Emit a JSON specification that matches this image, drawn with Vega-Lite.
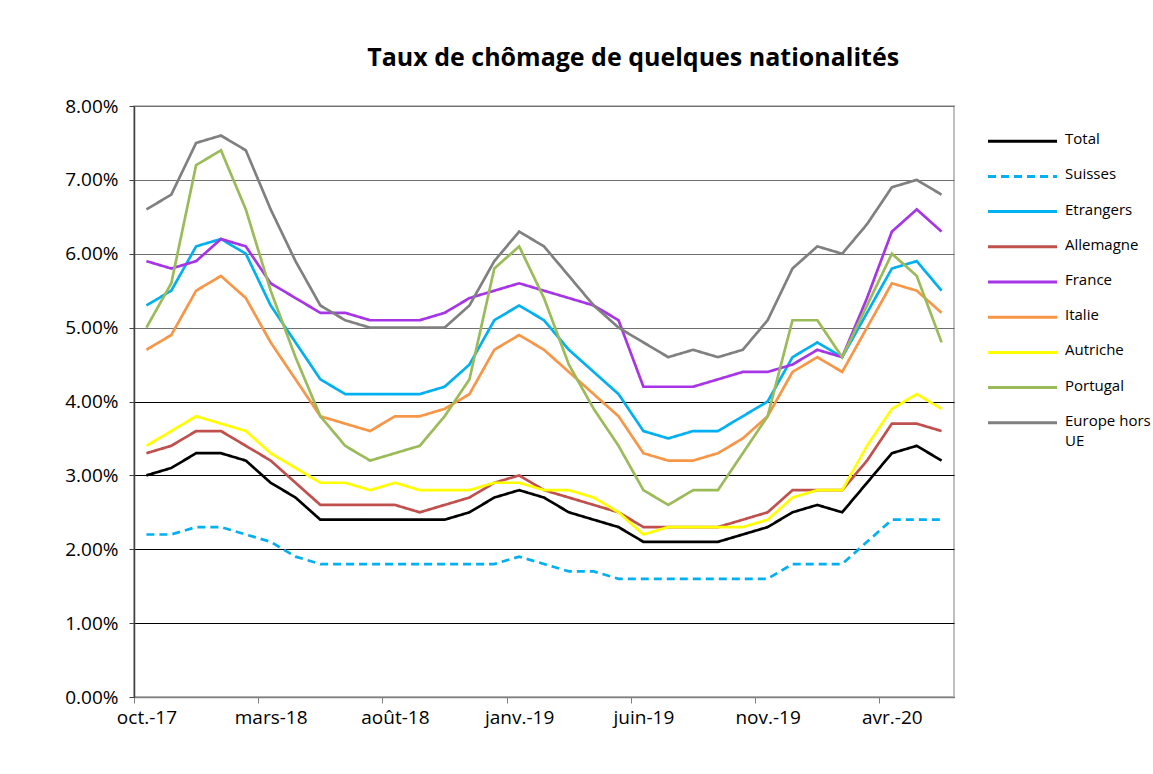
{
"$schema": "https://vega.github.io/schema/vega-lite/v6.json",
"autosize": {"type": "pad"},
"padding": {"left": 63, "top": 46, "right": 0, "bottom": 0},
"background": "white",
"spacing": 31,
"title": {"text": "Taux de chômage de quelques nationalités", "font": "Open Sans", "fontSize": 25, "fontWeight": "bold", "color": "black", "anchor": "middle", "dx": 26, "offset": 25},
"resolve": {"scale": {"x": "independent", "y": "independent"}},
"hconcat": [
{
"width": 820, "height": 591,
"data": {"values": [
{"mois":"oct.-17","serie":"Total","taux":0.030},{"mois":"nov.-17","serie":"Total","taux":0.031},{"mois":"déc.-17","serie":"Total","taux":0.033},{"mois":"janv.-18","serie":"Total","taux":0.033},{"mois":"févr.-18","serie":"Total","taux":0.032},{"mois":"mars-18","serie":"Total","taux":0.029},{"mois":"avr.-18","serie":"Total","taux":0.027},{"mois":"mai-18","serie":"Total","taux":0.024},{"mois":"juin-18","serie":"Total","taux":0.024},{"mois":"juil.-18","serie":"Total","taux":0.024},{"mois":"août-18","serie":"Total","taux":0.024},{"mois":"sept.-18","serie":"Total","taux":0.024},{"mois":"oct.-18","serie":"Total","taux":0.024},{"mois":"nov.-18","serie":"Total","taux":0.025},{"mois":"déc.-18","serie":"Total","taux":0.027},{"mois":"janv.-19","serie":"Total","taux":0.028},{"mois":"févr.-19","serie":"Total","taux":0.027},{"mois":"mars-19","serie":"Total","taux":0.025},{"mois":"avr.-19","serie":"Total","taux":0.024},{"mois":"mai-19","serie":"Total","taux":0.023},{"mois":"juin-19","serie":"Total","taux":0.021},{"mois":"juil.-19","serie":"Total","taux":0.021},{"mois":"août-19","serie":"Total","taux":0.021},{"mois":"sept.-19","serie":"Total","taux":0.021},{"mois":"oct.-19","serie":"Total","taux":0.022},{"mois":"nov.-19","serie":"Total","taux":0.023},{"mois":"déc.-19","serie":"Total","taux":0.025},{"mois":"janv.-20","serie":"Total","taux":0.026},{"mois":"févr.-20","serie":"Total","taux":0.025},{"mois":"mars-20","serie":"Total","taux":0.029},{"mois":"avr.-20","serie":"Total","taux":0.033},{"mois":"mai-20","serie":"Total","taux":0.034},{"mois":"juin-20","serie":"Total","taux":0.032},
{"mois":"oct.-17","serie":"Suisses","taux":0.022},{"mois":"nov.-17","serie":"Suisses","taux":0.022},{"mois":"déc.-17","serie":"Suisses","taux":0.023},{"mois":"janv.-18","serie":"Suisses","taux":0.023},{"mois":"févr.-18","serie":"Suisses","taux":0.022},{"mois":"mars-18","serie":"Suisses","taux":0.021},{"mois":"avr.-18","serie":"Suisses","taux":0.019},{"mois":"mai-18","serie":"Suisses","taux":0.018},{"mois":"juin-18","serie":"Suisses","taux":0.018},{"mois":"juil.-18","serie":"Suisses","taux":0.018},{"mois":"août-18","serie":"Suisses","taux":0.018},{"mois":"sept.-18","serie":"Suisses","taux":0.018},{"mois":"oct.-18","serie":"Suisses","taux":0.018},{"mois":"nov.-18","serie":"Suisses","taux":0.018},{"mois":"déc.-18","serie":"Suisses","taux":0.018},{"mois":"janv.-19","serie":"Suisses","taux":0.019},{"mois":"févr.-19","serie":"Suisses","taux":0.018},{"mois":"mars-19","serie":"Suisses","taux":0.017},{"mois":"avr.-19","serie":"Suisses","taux":0.017},{"mois":"mai-19","serie":"Suisses","taux":0.016},{"mois":"juin-19","serie":"Suisses","taux":0.016},{"mois":"juil.-19","serie":"Suisses","taux":0.016},{"mois":"août-19","serie":"Suisses","taux":0.016},{"mois":"sept.-19","serie":"Suisses","taux":0.016},{"mois":"oct.-19","serie":"Suisses","taux":0.016},{"mois":"nov.-19","serie":"Suisses","taux":0.016},{"mois":"déc.-19","serie":"Suisses","taux":0.018},{"mois":"janv.-20","serie":"Suisses","taux":0.018},{"mois":"févr.-20","serie":"Suisses","taux":0.018},{"mois":"mars-20","serie":"Suisses","taux":0.021},{"mois":"avr.-20","serie":"Suisses","taux":0.024},{"mois":"mai-20","serie":"Suisses","taux":0.024},{"mois":"juin-20","serie":"Suisses","taux":0.024},
{"mois":"oct.-17","serie":"Etrangers","taux":0.053},{"mois":"nov.-17","serie":"Etrangers","taux":0.055},{"mois":"déc.-17","serie":"Etrangers","taux":0.061},{"mois":"janv.-18","serie":"Etrangers","taux":0.062},{"mois":"févr.-18","serie":"Etrangers","taux":0.060},{"mois":"mars-18","serie":"Etrangers","taux":0.053},{"mois":"avr.-18","serie":"Etrangers","taux":0.048},{"mois":"mai-18","serie":"Etrangers","taux":0.043},{"mois":"juin-18","serie":"Etrangers","taux":0.041},{"mois":"juil.-18","serie":"Etrangers","taux":0.041},{"mois":"août-18","serie":"Etrangers","taux":0.041},{"mois":"sept.-18","serie":"Etrangers","taux":0.041},{"mois":"oct.-18","serie":"Etrangers","taux":0.042},{"mois":"nov.-18","serie":"Etrangers","taux":0.045},{"mois":"déc.-18","serie":"Etrangers","taux":0.051},{"mois":"janv.-19","serie":"Etrangers","taux":0.053},{"mois":"févr.-19","serie":"Etrangers","taux":0.051},{"mois":"mars-19","serie":"Etrangers","taux":0.047},{"mois":"avr.-19","serie":"Etrangers","taux":0.044},{"mois":"mai-19","serie":"Etrangers","taux":0.041},{"mois":"juin-19","serie":"Etrangers","taux":0.036},{"mois":"juil.-19","serie":"Etrangers","taux":0.035},{"mois":"août-19","serie":"Etrangers","taux":0.036},{"mois":"sept.-19","serie":"Etrangers","taux":0.036},{"mois":"oct.-19","serie":"Etrangers","taux":0.038},{"mois":"nov.-19","serie":"Etrangers","taux":0.040},{"mois":"déc.-19","serie":"Etrangers","taux":0.046},{"mois":"janv.-20","serie":"Etrangers","taux":0.048},{"mois":"févr.-20","serie":"Etrangers","taux":0.046},{"mois":"mars-20","serie":"Etrangers","taux":0.052},{"mois":"avr.-20","serie":"Etrangers","taux":0.058},{"mois":"mai-20","serie":"Etrangers","taux":0.059},{"mois":"juin-20","serie":"Etrangers","taux":0.055},
{"mois":"oct.-17","serie":"Allemagne","taux":0.033},{"mois":"nov.-17","serie":"Allemagne","taux":0.034},{"mois":"déc.-17","serie":"Allemagne","taux":0.036},{"mois":"janv.-18","serie":"Allemagne","taux":0.036},{"mois":"févr.-18","serie":"Allemagne","taux":0.034},{"mois":"mars-18","serie":"Allemagne","taux":0.032},{"mois":"avr.-18","serie":"Allemagne","taux":0.029},{"mois":"mai-18","serie":"Allemagne","taux":0.026},{"mois":"juin-18","serie":"Allemagne","taux":0.026},{"mois":"juil.-18","serie":"Allemagne","taux":0.026},{"mois":"août-18","serie":"Allemagne","taux":0.026},{"mois":"sept.-18","serie":"Allemagne","taux":0.025},{"mois":"oct.-18","serie":"Allemagne","taux":0.026},{"mois":"nov.-18","serie":"Allemagne","taux":0.027},{"mois":"déc.-18","serie":"Allemagne","taux":0.029},{"mois":"janv.-19","serie":"Allemagne","taux":0.030},{"mois":"févr.-19","serie":"Allemagne","taux":0.028},{"mois":"mars-19","serie":"Allemagne","taux":0.027},{"mois":"avr.-19","serie":"Allemagne","taux":0.026},{"mois":"mai-19","serie":"Allemagne","taux":0.025},{"mois":"juin-19","serie":"Allemagne","taux":0.023},{"mois":"juil.-19","serie":"Allemagne","taux":0.023},{"mois":"août-19","serie":"Allemagne","taux":0.023},{"mois":"sept.-19","serie":"Allemagne","taux":0.023},{"mois":"oct.-19","serie":"Allemagne","taux":0.024},{"mois":"nov.-19","serie":"Allemagne","taux":0.025},{"mois":"déc.-19","serie":"Allemagne","taux":0.028},{"mois":"janv.-20","serie":"Allemagne","taux":0.028},{"mois":"févr.-20","serie":"Allemagne","taux":0.028},{"mois":"mars-20","serie":"Allemagne","taux":0.032},{"mois":"avr.-20","serie":"Allemagne","taux":0.037},{"mois":"mai-20","serie":"Allemagne","taux":0.037},{"mois":"juin-20","serie":"Allemagne","taux":0.036},
{"mois":"oct.-17","serie":"France","taux":0.059},{"mois":"nov.-17","serie":"France","taux":0.058},{"mois":"déc.-17","serie":"France","taux":0.059},{"mois":"janv.-18","serie":"France","taux":0.062},{"mois":"févr.-18","serie":"France","taux":0.061},{"mois":"mars-18","serie":"France","taux":0.056},{"mois":"avr.-18","serie":"France","taux":0.054},{"mois":"mai-18","serie":"France","taux":0.052},{"mois":"juin-18","serie":"France","taux":0.052},{"mois":"juil.-18","serie":"France","taux":0.051},{"mois":"août-18","serie":"France","taux":0.051},{"mois":"sept.-18","serie":"France","taux":0.051},{"mois":"oct.-18","serie":"France","taux":0.052},{"mois":"nov.-18","serie":"France","taux":0.054},{"mois":"déc.-18","serie":"France","taux":0.055},{"mois":"janv.-19","serie":"France","taux":0.056},{"mois":"févr.-19","serie":"France","taux":0.055},{"mois":"mars-19","serie":"France","taux":0.054},{"mois":"avr.-19","serie":"France","taux":0.053},{"mois":"mai-19","serie":"France","taux":0.051},{"mois":"juin-19","serie":"France","taux":0.042},{"mois":"juil.-19","serie":"France","taux":0.042},{"mois":"août-19","serie":"France","taux":0.042},{"mois":"sept.-19","serie":"France","taux":0.043},{"mois":"oct.-19","serie":"France","taux":0.044},{"mois":"nov.-19","serie":"France","taux":0.044},{"mois":"déc.-19","serie":"France","taux":0.045},{"mois":"janv.-20","serie":"France","taux":0.047},{"mois":"févr.-20","serie":"France","taux":0.046},{"mois":"mars-20","serie":"France","taux":0.054},{"mois":"avr.-20","serie":"France","taux":0.063},{"mois":"mai-20","serie":"France","taux":0.066},{"mois":"juin-20","serie":"France","taux":0.063},
{"mois":"oct.-17","serie":"Italie","taux":0.047},{"mois":"nov.-17","serie":"Italie","taux":0.049},{"mois":"déc.-17","serie":"Italie","taux":0.055},{"mois":"janv.-18","serie":"Italie","taux":0.057},{"mois":"févr.-18","serie":"Italie","taux":0.054},{"mois":"mars-18","serie":"Italie","taux":0.048},{"mois":"avr.-18","serie":"Italie","taux":0.043},{"mois":"mai-18","serie":"Italie","taux":0.038},{"mois":"juin-18","serie":"Italie","taux":0.037},{"mois":"juil.-18","serie":"Italie","taux":0.036},{"mois":"août-18","serie":"Italie","taux":0.038},{"mois":"sept.-18","serie":"Italie","taux":0.038},{"mois":"oct.-18","serie":"Italie","taux":0.039},{"mois":"nov.-18","serie":"Italie","taux":0.041},{"mois":"déc.-18","serie":"Italie","taux":0.047},{"mois":"janv.-19","serie":"Italie","taux":0.049},{"mois":"févr.-19","serie":"Italie","taux":0.047},{"mois":"mars-19","serie":"Italie","taux":0.044},{"mois":"avr.-19","serie":"Italie","taux":0.041},{"mois":"mai-19","serie":"Italie","taux":0.038},{"mois":"juin-19","serie":"Italie","taux":0.033},{"mois":"juil.-19","serie":"Italie","taux":0.032},{"mois":"août-19","serie":"Italie","taux":0.032},{"mois":"sept.-19","serie":"Italie","taux":0.033},{"mois":"oct.-19","serie":"Italie","taux":0.035},{"mois":"nov.-19","serie":"Italie","taux":0.038},{"mois":"déc.-19","serie":"Italie","taux":0.044},{"mois":"janv.-20","serie":"Italie","taux":0.046},{"mois":"févr.-20","serie":"Italie","taux":0.044},{"mois":"mars-20","serie":"Italie","taux":0.050},{"mois":"avr.-20","serie":"Italie","taux":0.056},{"mois":"mai-20","serie":"Italie","taux":0.055},{"mois":"juin-20","serie":"Italie","taux":0.052},
{"mois":"oct.-17","serie":"Autriche","taux":0.034},{"mois":"nov.-17","serie":"Autriche","taux":0.036},{"mois":"déc.-17","serie":"Autriche","taux":0.038},{"mois":"janv.-18","serie":"Autriche","taux":0.037},{"mois":"févr.-18","serie":"Autriche","taux":0.036},{"mois":"mars-18","serie":"Autriche","taux":0.033},{"mois":"avr.-18","serie":"Autriche","taux":0.031},{"mois":"mai-18","serie":"Autriche","taux":0.029},{"mois":"juin-18","serie":"Autriche","taux":0.029},{"mois":"juil.-18","serie":"Autriche","taux":0.028},{"mois":"août-18","serie":"Autriche","taux":0.029},{"mois":"sept.-18","serie":"Autriche","taux":0.028},{"mois":"oct.-18","serie":"Autriche","taux":0.028},{"mois":"nov.-18","serie":"Autriche","taux":0.028},{"mois":"déc.-18","serie":"Autriche","taux":0.029},{"mois":"janv.-19","serie":"Autriche","taux":0.029},{"mois":"févr.-19","serie":"Autriche","taux":0.028},{"mois":"mars-19","serie":"Autriche","taux":0.028},{"mois":"avr.-19","serie":"Autriche","taux":0.027},{"mois":"mai-19","serie":"Autriche","taux":0.025},{"mois":"juin-19","serie":"Autriche","taux":0.022},{"mois":"juil.-19","serie":"Autriche","taux":0.023},{"mois":"août-19","serie":"Autriche","taux":0.023},{"mois":"sept.-19","serie":"Autriche","taux":0.023},{"mois":"oct.-19","serie":"Autriche","taux":0.023},{"mois":"nov.-19","serie":"Autriche","taux":0.024},{"mois":"déc.-19","serie":"Autriche","taux":0.027},{"mois":"janv.-20","serie":"Autriche","taux":0.028},{"mois":"févr.-20","serie":"Autriche","taux":0.028},{"mois":"mars-20","serie":"Autriche","taux":0.034},{"mois":"avr.-20","serie":"Autriche","taux":0.039},{"mois":"mai-20","serie":"Autriche","taux":0.041},{"mois":"juin-20","serie":"Autriche","taux":0.039},
{"mois":"oct.-17","serie":"Portugal","taux":0.050},{"mois":"nov.-17","serie":"Portugal","taux":0.056},{"mois":"déc.-17","serie":"Portugal","taux":0.072},{"mois":"janv.-18","serie":"Portugal","taux":0.074},{"mois":"févr.-18","serie":"Portugal","taux":0.066},{"mois":"mars-18","serie":"Portugal","taux":0.055},{"mois":"avr.-18","serie":"Portugal","taux":0.046},{"mois":"mai-18","serie":"Portugal","taux":0.038},{"mois":"juin-18","serie":"Portugal","taux":0.034},{"mois":"juil.-18","serie":"Portugal","taux":0.032},{"mois":"août-18","serie":"Portugal","taux":0.033},{"mois":"sept.-18","serie":"Portugal","taux":0.034},{"mois":"oct.-18","serie":"Portugal","taux":0.038},{"mois":"nov.-18","serie":"Portugal","taux":0.043},{"mois":"déc.-18","serie":"Portugal","taux":0.058},{"mois":"janv.-19","serie":"Portugal","taux":0.061},{"mois":"févr.-19","serie":"Portugal","taux":0.054},{"mois":"mars-19","serie":"Portugal","taux":0.045},{"mois":"avr.-19","serie":"Portugal","taux":0.039},{"mois":"mai-19","serie":"Portugal","taux":0.034},{"mois":"juin-19","serie":"Portugal","taux":0.028},{"mois":"juil.-19","serie":"Portugal","taux":0.026},{"mois":"août-19","serie":"Portugal","taux":0.028},{"mois":"sept.-19","serie":"Portugal","taux":0.028},{"mois":"oct.-19","serie":"Portugal","taux":0.033},{"mois":"nov.-19","serie":"Portugal","taux":0.038},{"mois":"déc.-19","serie":"Portugal","taux":0.051},{"mois":"janv.-20","serie":"Portugal","taux":0.051},{"mois":"févr.-20","serie":"Portugal","taux":0.046},{"mois":"mars-20","serie":"Portugal","taux":0.053},{"mois":"avr.-20","serie":"Portugal","taux":0.060},{"mois":"mai-20","serie":"Portugal","taux":0.057},{"mois":"juin-20","serie":"Portugal","taux":0.048},
{"mois":"oct.-17","serie":"Europe hors UE","taux":0.066},{"mois":"nov.-17","serie":"Europe hors UE","taux":0.068},{"mois":"déc.-17","serie":"Europe hors UE","taux":0.075},{"mois":"janv.-18","serie":"Europe hors UE","taux":0.076},{"mois":"févr.-18","serie":"Europe hors UE","taux":0.074},{"mois":"mars-18","serie":"Europe hors UE","taux":0.066},{"mois":"avr.-18","serie":"Europe hors UE","taux":0.059},{"mois":"mai-18","serie":"Europe hors UE","taux":0.053},{"mois":"juin-18","serie":"Europe hors UE","taux":0.051},{"mois":"juil.-18","serie":"Europe hors UE","taux":0.050},{"mois":"août-18","serie":"Europe hors UE","taux":0.050},{"mois":"sept.-18","serie":"Europe hors UE","taux":0.050},{"mois":"oct.-18","serie":"Europe hors UE","taux":0.050},{"mois":"nov.-18","serie":"Europe hors UE","taux":0.053},{"mois":"déc.-18","serie":"Europe hors UE","taux":0.059},{"mois":"janv.-19","serie":"Europe hors UE","taux":0.063},{"mois":"févr.-19","serie":"Europe hors UE","taux":0.061},{"mois":"mars-19","serie":"Europe hors UE","taux":0.057},{"mois":"avr.-19","serie":"Europe hors UE","taux":0.053},{"mois":"mai-19","serie":"Europe hors UE","taux":0.050},{"mois":"juin-19","serie":"Europe hors UE","taux":0.048},{"mois":"juil.-19","serie":"Europe hors UE","taux":0.046},{"mois":"août-19","serie":"Europe hors UE","taux":0.047},{"mois":"sept.-19","serie":"Europe hors UE","taux":0.046},{"mois":"oct.-19","serie":"Europe hors UE","taux":0.047},{"mois":"nov.-19","serie":"Europe hors UE","taux":0.051},{"mois":"déc.-19","serie":"Europe hors UE","taux":0.058},{"mois":"janv.-20","serie":"Europe hors UE","taux":0.061},{"mois":"févr.-20","serie":"Europe hors UE","taux":0.060},{"mois":"mars-20","serie":"Europe hors UE","taux":0.064},{"mois":"avr.-20","serie":"Europe hors UE","taux":0.069},{"mois":"mai-20","serie":"Europe hors UE","taux":0.070},{"mois":"juin-20","serie":"Europe hors UE","taux":0.068}
]},
"mark": {"type": "line", "strokeWidth": 2.7},
"encoding": {
  "x": {"field": "mois", "type": "ordinal", "sort": null, "scale": {"type": "point", "padding": 0.5},
    "axis": {"title": null, "values": ["oct.-17","mars-18","août-18","janv.-19","juin-19","nov.-19","avr.-20"], "labelAngle": 0, "tickOffset": -12.42, "labelOffset": 12.42, "tickSize": 6, "tickColor": "#808080", "domainColor": "#808080", "domainWidth": 1.5, "grid": false, "labelFont": "Open Sans", "labelFontSize": 19, "labelColor": "black", "labelPadding": 5}},
  "y": {"field": "taux", "type": "quantitative", "scale": {"domain": [0, 0.08], "nice": false},
    "axis": {"title": null, "values": [0,0.01,0.02,0.03,0.04,0.05,0.06,0.07,0.08], "format": ".2%", "tickSize": 5, "tickColor": "#404040", "domainColor": "#404040", "domainWidth": 1.5, "labelFont": "Open Sans", "labelFontSize": 19, "labelColor": "black", "labelPadding": 11,
      "grid": true, "gridColor": {"condition": {"test": "datum.value <= 0.045", "value": "#000000"}, "value": "#6f6f6f"}, "gridWidth": 1.2, "gridOpacity": 1}},
  "color": {"field": "serie", "type": "nominal", "legend": null,
    "scale": {"domain": ["Total","Suisses","Etrangers","Allemagne","France","Italie","Autriche","Portugal","Europe hors UE"],
              "range": ["#000000","#00b0f0","#00b0f0","#c0504d","#a635e8","#f79646","#ffff00","#9bbb59","#808080"]}},
  "strokeDash": {"field": "serie", "type": "nominal", "legend": null,
    "scale": {"domain": ["Total","Suisses","Etrangers","Allemagne","France","Italie","Autriche","Portugal","Europe hors UE"],
              "range": [[1,0],[8,5],[1,0],[1,0],[1,0],[1,0],[1,0],[1,0],[1,0]]}}
}
},
{
"width": 69, "height": 352,
"view": {"stroke": null},
"data": {"values": [
{"serie":"Total","libelle":"Total"},{"serie":"Suisses","libelle":"Suisses"},{"serie":"Etrangers","libelle":"Etrangers"},{"serie":"Allemagne","libelle":"Allemagne"},{"serie":"France","libelle":"France"},{"serie":"Italie","libelle":"Italie"},{"serie":"Autriche","libelle":"Autriche"},{"serie":"Portugal","libelle":"Portugal"},{"serie":"Europe hors UE","libelle":"Europe hors\nUE"}
]},
"encoding": {
  "y": {"field": "serie", "type": "nominal", "sort": null, "scale": {"type": "point", "padding": 1.1}, "axis": null}
},
"layer": [
  {"mark": {"type": "rule", "strokeWidth": 3},
   "encoding": {
     "x": {"datum": 0, "type": "quantitative", "scale": {"domain": [0, 1], "nice": false}, "axis": null},
     "x2": {"datum": 1},
     "color": {"field": "serie", "type": "nominal", "legend": null,
       "scale": {"domain": ["Total","Suisses","Etrangers","Allemagne","France","Italie","Autriche","Portugal","Europe hors UE"],
                 "range": ["#000000","#00b0f0","#00b0f0","#c0504d","#a635e8","#f79646","#ffff00","#9bbb59","#808080"]}},
     "strokeDash": {"field": "serie", "type": "nominal", "legend": null,
       "scale": {"domain": ["Total","Suisses","Etrangers","Allemagne","France","Italie","Autriche","Portugal","Europe hors UE"],
                 "range": [[1,0],[8,5],[1,0],[1,0],[1,0],[1,0],[1,0],[1,0],[1,0]]}}
   }},
  {"mark": {"type": "text", "align": "left", "baseline": "top", "dx": 8, "dy": -9, "font": "Open Sans", "fontSize": 15, "lineHeight": 20, "lineBreak": "\n", "color": "black"},
   "encoding": {
     "x": {"datum": 1, "type": "quantitative"},
     "text": {"field": "libelle"}
   }}
]
}
],
"config": {"view": {"stroke": "#bfbfbf", "strokeWidth": 2}}
}
